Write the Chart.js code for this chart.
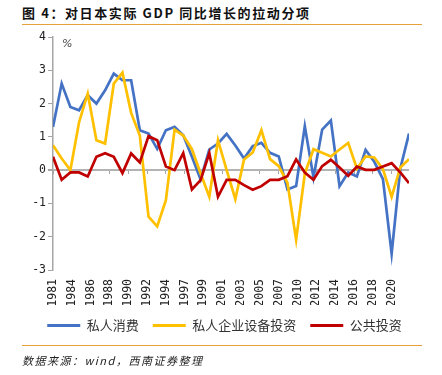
<!DOCTYPE html>
<html>
<head>
<meta charset="utf-8">
<script src="https://cdn.jsdelivr.net/npm/chart.js@4"></script>
<style>
  html, body { margin: 0; padding: 0; background: #fff; }
  #wrap { position: relative; width: 442px; height: 375px; overflow: hidden; }
  #title { position: absolute; left: 22px; top: 3px; font: bold 13px "Noto Sans CJK SC", sans-serif; letter-spacing: 1.6px; color: #111; white-space: nowrap; }
  .rule { position: absolute; left: 22px; width: 400px; height: 0; border-top: 1.5px solid #E8A13A; }
  #pct { position: absolute; left: 62px; top: 37px; font: italic 11px "DejaVu Sans", sans-serif; color: #444; }
  #source { position: absolute; left: 22px; top: 352px; font: italic 11px "Noto Sans CJK SC", sans-serif; letter-spacing: 1.5px; color: #222; white-space: nowrap; }
  canvas { position: absolute; left: 0; top: 0; }
</style>
</head>
<body>
<div id="wrap">
  <div id="title">图 4：对日本实际 GDP 同比增长的拉动分项</div>
  <div class="rule" style="top:24px"></div>
  <canvas id="myChart" width="442" height="375"></canvas>
  <div id="pct">%</div>
  <div class="rule" style="top:345px"></div>
  <div id="source">数据来源：wind，西南证券整理</div>
</div>
<script>
// years 1981 - 2022
const years = [1981, 1982, 1983, 1984, 1985, 1986, 1987, 1988, 1989, 1990,
  1991, 1992, 1993, 1994, 1995, 1996, 1997, 1998, 1999, 2000,
  2001, 2002, 2003, 2004, 2005, 2006, 2007, 2008, 2009, 2010,
  2011, 2012, 2013, 2014, 2015, 2016, 2017, 2018, 2019, 2020,
  2021, 2022]

const privateConsumption = [1.3, 2.6, 1.9, 1.8, 2.25, 2.0, 2.4, 2.9, 2.7, 2.7,
  1.2, 1.1, 0.64, 1.2, 1.3, 1.05, 0.4, -0.28, 0.62, 0.8,
  1.09, 0.74, 0.35, 0.72, 0.82, 0.52, 0.41, -0.58, -0.48, 1.32,
  -0.22, 1.22, 1.49, -0.48, -0.07, -0.19, 0.61, 0.25, -0.27, -2.51,
  0.05, 1.1]

const businessInvestment = [0.75, 0.35, 0.0, 1.44, 2.3, 0.9, 0.8, 2.6, 2.93, 1.72,
  1.04, -1.4, -1.69, -0.9, 1.22, 1.04, 0.63, -0.1, -0.8, 0.9,
  0.0, -0.87, 0.32, 0.53, 1.2, 0.33, 0.12, -0.38, -2.09, -0.1,
  0.63, 0.52, 0.41, 0.62, 0.82, 0.05, 0.41, 0.38, 0.03, -0.8,
  0.08, 0.33]

const publicInvestment = [0.4, -0.29, -0.07, -0.07, -0.19, 0.4, 0.51, 0.4, -0.09, 0.5,
  0.23, 1.02, 0.9, 0.11, 0.0, 0.51, -0.58, -0.3, 0.51, -0.8,
  -0.29, -0.29, -0.45, -0.59, -0.48, -0.29, -0.29, -0.18, 0.32, -0.07,
  -0.29, 0.12, 0.31, 0.08, -0.17, 0.11, 0.01, 0.01, 0.11, 0.21,
  -0.07, -0.39]

const tickLabels = ['1981', '1984', '1986', '1988', '1990', '1992', '1994', '1997', '1999', '2001',
  '2003', '2005', '2007', '2010', '2012', '2014', '2016', '2018', '2020']

const seriesNames = ['私人消费', '私人企业设备投资', '公共投资']
const seriesColors = ['#4472C4', '#FFC000', '#C00000']

// labels are spread evenly between the first and the 2020 position
function spreadTicks (scale) {
  const first = years[0]
  const last = 2020
  scale.ticks = tickLabels.map((l, i) => ({ value: first + i * (last - first) / (tickLabels.length - 1) }))
}

const toPoints = arr => arr.map((v, i) => ({ x: years[i], y: v }))

const monoFont = { family: 'DejaVu Sans Mono', size: 11.5 }

const datasets = [privateConsumption, businessInvestment, publicInvestment].map((arr, i) => ({
  label: seriesNames[i],
  data: toPoints(arr),
  borderColor: seriesColors[i],
  backgroundColor: seriesColors[i],
  borderWidth: 2.7,
  pointRadius: 0,
  tension: 0,
  order: 3 - i // red on top, like the original
}))

// nudge the legend to the right so it sits under the whole page, not just the plot
const legendShift = {
  id: 'legendShift',
  afterLayout (chart) {
    if (chart.legend) {
      chart.legend.left += 20
      chart.legend.right += 20
    }
  }
}

const ctx = document.getElementById('myChart').getContext('2d')
new Chart(ctx, {
  type: 'line',
  data: { datasets: datasets },
  plugins: [legendShift],
  options: {
    responsive: false,
    animation: false,
    layout: { padding: { left: 0, right: 33, top: 37, bottom: 33 } },
    scales: {
      x: {
        type: 'linear',
        min: 1981,
        max: 2022,
        afterBuildTicks: spreadTicks,
        afterFit: scale => { scale.height = 35 },
        grid: { display: false, drawTicks: false },
        border: { display: false },
        ticks: {
          minRotation: 90,
          maxRotation: 90,
          padding: 9,
          autoSkip: false,
          color: '#222',
          font: monoFont,
          callback: (value, index) => tickLabels[index]
        }
      },
      x2: {
        type: 'linear',
        position: { y: 0 },
        min: 1981,
        max: 2022,
        afterBuildTicks: spreadTicks,
        grid: { drawOnChartArea: false, drawTicks: true, tickLength: 4, color: '#a6a6a6', lineWidth: 1 },
        border: { display: false },
        ticks: { display: false }
      },
      y: {
        min: -3,
        max: 4,
        afterFit: scale => { scale.width = 53 },
        grid: {
          color: c => (c.tick && c.tick.value === 0 ? '#b3b3b3' : 'transparent'),
          lineWidth: c => (c.tick && c.tick.value === 0 ? 2 : 1),
          tickColor: '#a6a6a6',
          tickLength: 5
        },
        border: { display: true, color: '#a6a6a6', width: 1.5 },
        ticks: {
          stepSize: 1,
          padding: 2,
          color: '#222',
          font: monoFont
        }
      }
    },
    plugins: {
      legend: {
        display: true,
        position: 'bottom',
        labels: {
          boxWidth: 33,
          boxHeight: 3,
          padding: 14,
          color: '#333',
          font: { family: 'Noto Sans CJK SC', size: 13 },
          sort: (a, b) => a.datasetIndex - b.datasetIndex,
          generateLabels: chart => Chart.defaults.plugins.legend.labels.generateLabels(chart)
            .map(item => Object.assign(item, { lineWidth: 0 }))
        }
      },
      tooltip: { enabled: false }
    }
  }
})
</script>
</body>
</html>
